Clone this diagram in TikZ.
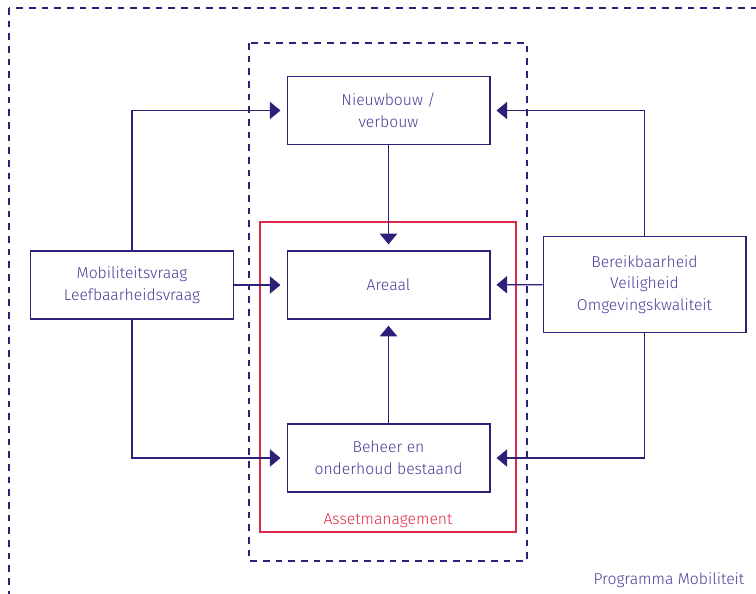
\documentclass[tikz,border=0pt]{standalone}
\usepackage{fontspec}
\setmainfont{Fira Sans}[UprightFont=* Light]
\usetikzlibrary{arrows.meta}
\definecolor{ink}{RGB}{45,32,120}
\definecolor{txt}{RGB}{70,60,150}
\definecolor{redline}{RGB}{222,40,72}
\tikzset{
  box/.style={draw=ink,line width=1pt,minimum width=152pt,minimum height=51pt,align=center,text=txt,font=\fontsize{11.8}{16.3}\selectfont,inner sep=0pt},
  conn/.style={draw=ink,line width=1pt,-{Triangle[length=8pt,width=13pt]},shorten >=4.5pt},
  dashbox/.style={draw=ink,line width=0.9pt,dash pattern=on 5pt off 4.5pt},
}
\begin{document}
\begin{tikzpicture}[x=0.75pt,y=-0.75pt]
\useasboundingbox (0,0) rectangle (756,593);
\begin{scope}
\clip (0,0) rectangle (756,593);
\draw[dashbox] (9,8) rectangle (790,640);
\end{scope}
\draw[dashbox] (249,43) rectangle (527,561);
\draw[draw=redline,line width=1pt] (260,222) rectangle (516,532);
\node[text=redline,font=\fontsize{11.8}{14}\selectfont] (am) at (388,521) {Assetmanagement};
\node[text=txt,font=\fontsize{11.8}{14}\selectfont,anchor=east] (pm) at (749,580) {Programma Mobiliteit};

\node[box] (nb) at (388.5,110.5) {Nieuwbouw /\\verbouw};
\node[box] (ar) at (388.5,285) {Areaal};
\node[box] (bh) at (388.5,458) {Beheer en\\onderhoud bestaand};
\node[box] (lv) at (132,285) {Mobiliteitsvraag\\Leefbaarheidsvraag};
\node[box,minimum height=72pt] (rv) at (644.5,284.5) {Bereikbaarheid\\Veiligheid\\Omgevingskwaliteit};

\draw[conn] (nb) -- (ar);
\draw[conn] (bh) -- (ar);
\draw[conn] (lv) -- (ar);
\draw[conn] (rv) -- (ar);
\draw[conn] (lv.north) |- (nb.west);
\draw[conn] (lv.south) |- (bh.west);
\draw[conn] (rv.north) |- (nb.east);
\draw[conn] (rv.south) |- (bh.east);
\end{tikzpicture}
\end{document}
